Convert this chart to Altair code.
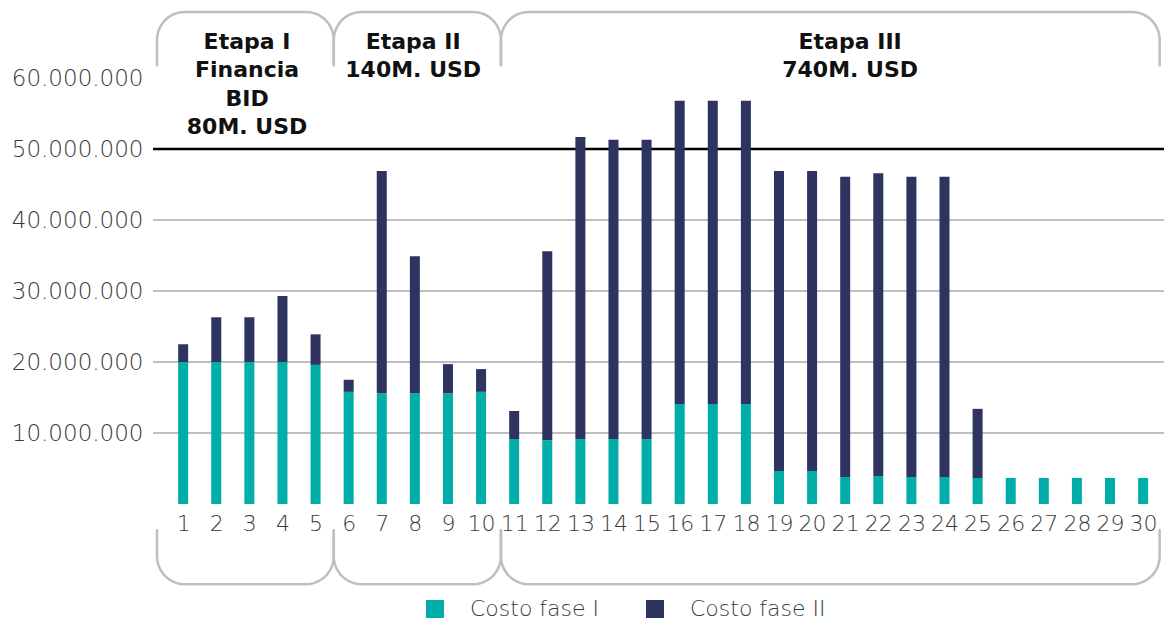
import altair as alt
import pandas as pd
import numpy as np

# ---------------- data ----------------
periods = list(range(1, 31))
fase1 = [20.0, 20.0, 20.0, 20.0, 19.6, 15.8, 15.6, 15.6, 15.6, 15.8,
         9.15, 9.0, 9.15, 9.15, 9.15, 14.1, 14.1, 14.1, 4.65, 4.65,
         3.8, 3.94, 3.8, 3.8, 3.66, 3.66, 3.66, 3.66, 3.66, 3.66]
fase2 = [2.5, 6.3, 6.3, 9.3, 4.3, 1.7, 31.3, 19.3, 4.1, 3.2,
         3.95, 26.6, 42.55, 42.15, 42.15, 42.7, 42.7, 42.7, 42.25, 42.25,
         42.3, 42.66, 42.3, 42.3, 9.74, 0, 0, 0, 0, 0]
series = ["Costo fase I", "Costo fase II"]
colors = ["#00ADA9", "#2E3360"]
y_ticks = [10_000_000, 20_000_000, 30_000_000, 40_000_000, 50_000_000, 60_000_000]
grid_values = [10_000_000, 20_000_000, 30_000_000, 40_000_000]
threshold = 50_000_000

stage_texts = ["Etapa I\nFinancia\nBID\n80M. USD", "Etapa II\n140M. USD", "Etapa III\n740M. USD"]
stage_text_x = [2.93, 7.95, 21.15]
stage_bounds = [0.21, 5.55, 10.6, 30.5]

# ---------------- layout ----------------
W, H = 1011, 426
X_DOM = [0.24, 30.48]
Y_DOM = [0, 60_000_000]
kx = W / (X_DOM[1] - X_DOM[0])          # px per period unit
ky = H / (Y_DOM[1] - Y_DOM[0])          # px per value unit

FONT = "DejaVu Sans"
GRAY = "#BFBFBF"
LABEL = "#3a3a3a"

rows = []
for p, a, b in zip(periods, fase1, fase2):
    rows.append({"x": p, "y": a * 1e6, "serie": series[0], "o": 0})
    rows.append({"x": p, "y": b * 1e6, "serie": series[1], "o": 1})
bars_df = pd.DataFrame(rows)


def bracket(bid, xl, xr, y_open, y_closed, r_px, up):
    rx, ry = r_px / kx, r_px / ky
    s = 1 if up else -1
    cy = y_closed - s * ry
    pts = [(xl, y_open)]
    for t in np.linspace(np.pi, np.pi / 2, 12):
        pts.append((xl + rx + rx * np.cos(t), cy + s * ry * np.sin(t)))
    for t in np.linspace(np.pi / 2, 0, 12):
        pts.append((xr - rx + rx * np.cos(t), cy + s * ry * np.sin(t)))
    pts.append((xr, y_open))
    return [{"id": bid, "i": i, "x": x, "y": y} for i, (x, y) in enumerate(pts)]


br = []
for k in range(3):
    br += bracket(f"t{k}", stage_bounds[k], stage_bounds[k + 1], 61.8e6, 69.3e6, 28, True)
    br += bracket(f"b{k}", stage_bounds[k], stage_bounds[k + 1], -3.7e6, -11.3e6, 28, False)
br_df = pd.DataFrame(br)

stage_df = pd.DataFrame({"x": stage_text_x, "y": [64.1e6] * 3, "t": stage_texts})

xscale = alt.Scale(domain=X_DOM, nice=False, zero=False)
yscale = alt.Scale(domain=Y_DOM, nice=False, zero=False)
xaxis = alt.Axis(values=periods, format="d", title=None, grid=False, ticks=False, domain=False,
                 labelOverlap=False, labelFlush=False, labelFont=FONT, labelFontSize=22,
                 labelFontWeight=300, labelColor=LABEL, labelPadding=9)
yaxis = alt.Axis(values=y_ticks, format=",d", title=None, ticks=False, domain=False, grid=False,
                 labelFont=FONT, labelFontSize=23, labelFontWeight=300, labelColor=LABEL,
                 labelPadding=10)


def X():
    return alt.X("x:Q", scale=xscale, axis=xaxis)


def Y(stack=None):
    if stack:
        return alt.Y("y:Q", scale=yscale, axis=yaxis, stack="zero")
    return alt.Y("y:Q", scale=yscale, axis=yaxis)


grid = alt.Chart(pd.DataFrame({"y": grid_values})).mark_rule(color=GRAY, strokeWidth=2).encode(y=Y())
rule = alt.Chart(pd.DataFrame({"y": [threshold]})).mark_rule(color="black", strokeWidth=2.5).encode(y=Y())

bars = alt.Chart(bars_df).mark_bar(size=10).encode(
    x=X(),
    y=Y(stack=True),
    color=alt.Color("serie:N", scale=alt.Scale(domain=series, range=colors),
                    legend=alt.Legend(orient="none", legendX=271, legendY=520, direction="horizontal",
                                      title=None, symbolType="square", symbolSize=324,
                                      symbolStrokeWidth=0, symbolOpacity=1, labelFont=FONT,
                                      labelFontSize=22, labelFontWeight=300, labelColor=LABEL,
                                      labelOffset=24, columnPadding=44, padding=0)),
    order=alt.Order("o:Q"),
)

lines = alt.Chart(br_df).mark_line(color=GRAY, strokeWidth=2.5, strokeCap="round").encode(
    x=X(), y=Y(), detail="id:N", order=alt.Order("i:Q"))

texts = alt.Chart(stage_df).mark_text(lineBreak="\n", lineHeight=28.5, fontSize=22, fontWeight="bold",
                                      font=FONT, align="center", baseline="alphabetic",
                                      color="#111111").encode(x=X(), y=Y(), text="t:N")

chart = alt.layer(grid, rule, bars, lines, texts).properties(
    width=W, height=H, autosize="none",
    padding={"left": 145, "top": 70, "right": 2, "bottom": 116},
).configure(
    locale={"number": {"decimal": ",", "thousands": ".", "grouping": [3], "currency": ["", ""]}}
).configure_view(stroke=None)

chart.save("out.html", embed_options={"renderer": "svg", "actions": False})
